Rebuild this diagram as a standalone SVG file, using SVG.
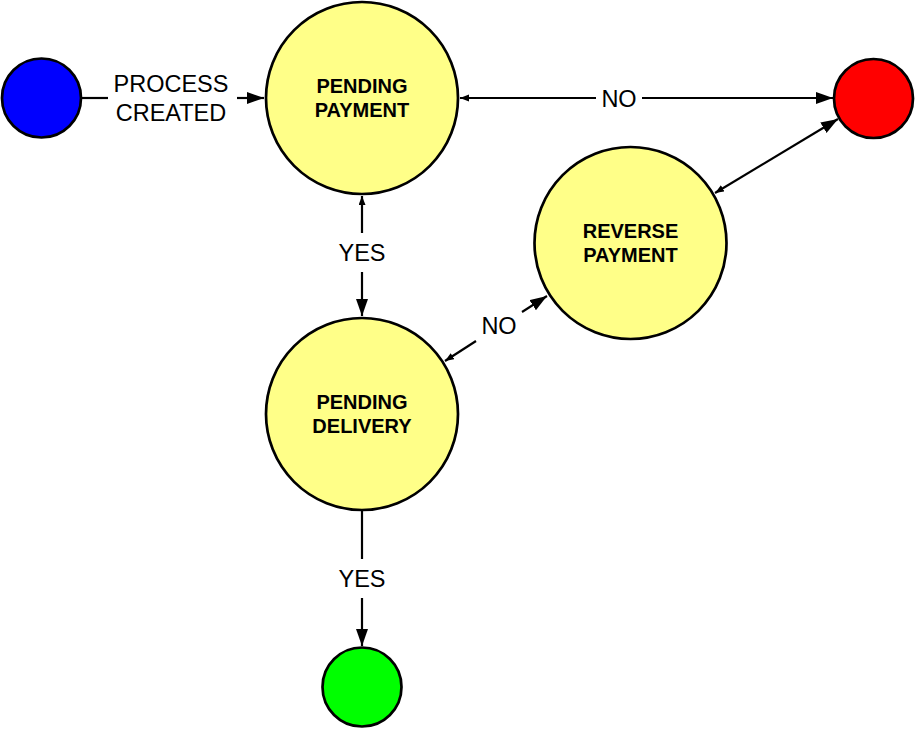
<svg xmlns="http://www.w3.org/2000/svg" width="916" height="730" viewBox="0 0 916 730">
<style>
.node{stroke:#000;stroke-width:2.7}
.state{fill:#ffff88}
.nt{font-family:"Liberation Sans",Arial,sans-serif;font-weight:bold;font-size:20px;text-anchor:middle;fill:#000}
.el{font-family:"Liberation Sans",Arial,sans-serif;font-size:23.5px;text-anchor:middle;fill:#000}
.edge{stroke:#000;stroke-width:2.2;fill:none}
</style>
<defs>
<marker id="big" markerUnits="userSpaceOnUse" markerWidth="18" markerHeight="13" refX="17" refY="6" orient="auto">
<path d="M0,0 L17,6 L0,12 z" fill="#000"/>
</marker>
<marker id="small" markerUnits="userSpaceOnUse" markerWidth="10" markerHeight="8" refX="9" refY="3.5" orient="auto-start-reverse">
<path d="M0,0 L9,3.5 L0,7 z" fill="#000"/>
</marker>
</defs>
<rect width="916" height="730" fill="#fff"/>
<g id="connectors">
<g id="e-start-pp">
<line class="edge" x1="81" y1="98" x2="108" y2="98"/>
<line class="edge" x1="237" y1="98" x2="264" y2="98" marker-end="url(#big)"/>
<text class="el" x="171" y="91.5">PROCESS</text>
<text class="el" x="171" y="121">CREATED</text>
</g>
<g id="e-pp-end">
<line class="edge" x1="460" y1="98" x2="596" y2="98" marker-start="url(#small)"/>
<line class="edge" x1="642" y1="98" x2="833" y2="98" marker-end="url(#big)"/>
<text class="el" x="619" y="106.5">NO</text>
</g>
<g id="e-rev-end">
<line class="edge" x1="715" y1="193" x2="838" y2="119" marker-start="url(#small)" marker-end="url(#big)"/>
</g>
<g id="e-pp-pd">
<line class="edge" x1="362" y1="196" x2="362" y2="233" marker-start="url(#small)"/>
<line class="edge" x1="362" y1="272" x2="362" y2="316" marker-end="url(#big)"/>
<text class="el" x="362" y="260.5">YES</text>
</g>
<g id="e-pd-rev">
<line class="edge" x1="445" y1="361" x2="476" y2="341" marker-start="url(#small)"/>
<line class="edge" x1="522" y1="312" x2="547" y2="296" marker-end="url(#big)"/>
<text class="el" x="499" y="334">NO</text>
</g>
<g id="e-pd-done">
<line class="edge" x1="362" y1="511" x2="362" y2="559"/>
<line class="edge" x1="362" y1="598" x2="362" y2="646" marker-end="url(#big)"/>
<text class="el" x="362" y="587">YES</text>
</g>
</g>
<g id="start"><circle class="node" cx="41.5" cy="98" r="39.5" fill="#0000ff"/></g>
<g id="end"><circle class="node" cx="873.5" cy="98.5" r="39.5" fill="#ff0000"/></g>
<g id="done"><circle class="node" cx="362" cy="687" r="39.5" fill="#00ff00"/></g>
<g id="pending-payment">
<circle class="node state" cx="362" cy="98" r="96"/>
<text class="nt" x="362" y="92.5">PENDING</text>
<text class="nt" x="362" y="117">PAYMENT</text>
</g>
<g id="reverse-payment">
<circle class="node state" cx="630.5" cy="243" r="96"/>
<text class="nt" x="630.5" y="237.5">REVERSE</text>
<text class="nt" x="630.5" y="262">PAYMENT</text>
</g>
<g id="pending-delivery">
<circle class="node state" cx="362" cy="414" r="96"/>
<text class="nt" x="362" y="408.5">PENDING</text>
<text class="nt" x="362" y="433">DELIVERY</text>
</g>
</svg>
